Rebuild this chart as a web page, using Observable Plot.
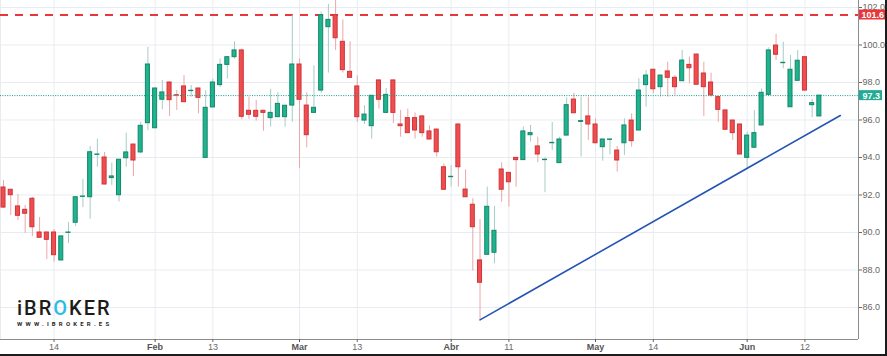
<!DOCTYPE html>
<html>
<head>
<meta charset="utf-8">
<script src="https://cdn.jsdelivr.net/npm/d3@7"></script>
<script src="https://cdn.jsdelivr.net/npm/@observablehq/plot@0.6"></script>
<style>
  html, body { margin: 0; padding: 0; background: #fff; }
  #wrap { position: relative; width: 887px; height: 356px; overflow: hidden; }
  #border { position: absolute; left: 0; top: 0; width: 887px; height: 356px; box-sizing: border-box;
            border-right: 2px solid #1b1b1b; border-bottom: 2px solid #1b1b1b; pointer-events: none; }
  #logo { position: absolute; left: 17px; top: 298px; pointer-events: none; }
  #logo .name { font-family: Roboto, "Liberation Sans", sans-serif; font-weight: 500; font-size: 20px;
                line-height: 20px; letter-spacing: 2px; color: #1c1c1c; }
  #logo .name span { color: #2bbde8; }
  #logo .url { font-family: Roboto, "Liberation Sans", sans-serif; font-weight: 700; font-size: 6px;
               line-height: 6px; letter-spacing: 3.2px; color: #2a2a2a; margin-top: 3px; }
</style>
</head>
<body>
<div id="wrap">
  <div id="chart"></div>
  <div id="logo"><div class="name">iBR<span>O</span>KER</div><div class="url">WWW.IBROKER.ES</div></div>
  <div id="border"></div>
</div>
<script>
// ---- Data (daily candles) ----
const open = [92.40,92.28,91.39,91.21,91.80,90.00,90.00,90.00,88.51,89.98,
  90.52,91.90,91.88,94.14,94.00,92.90,91.99,93.96,94.69,94.27,
  95.83,95.56,97.08,98.00,97.32,97.79,97.54,97.68,93.98,96.67,
  97.86,98.94,99.35,99.71,96.49,96.49,96.49,96.10,96.15,96.15,
  96.77,98.96,96.77,96.38,97.57,100.95,101.59,100.17,98.57,97.79,
  95.97,95.67,98.11,96.38,98.11,95.76,96.10,96.10,96.19,95.39,
  95.49,93.48,92.95,95.76,92.29,91.48,88.51,88.81,88.92,93.36,
  93.18,93.98,93.86,95.19,94.59,93.86,94.76,93.70,95.17,97.09,
  95.90,96.19,95.76,94.55,94.94,94.37,94.76,95.97,95.44,97.86,
  98.68,97.75,98.59,98.25,98.07,98.94,99.49,98.48,98.00,97.22,
  96.51,95.97,95.76,93.98,94.52,95.71,97.34,99.97,99.03,96.68,
  98.09,99.35,96.79,96.19];
const high = [92.77,92.30,92.03,91.44,91.87,90.80,90.02,90.16,89.82,90.53,
  91.92,92.83,94.59,94.98,94.27,93.70,93.90,95.30,94.71,95.88,
  99.88,97.70,98.11,98.02,97.57,98.37,97.84,97.70,97.57,98.18,
  99.26,99.37,100.17,99.78,97.22,97.04,96.51,97.64,97.45,96.78,
  101.59,99.26,97.45,98.89,101.75,102.16,102.40,101.34,100.17,98.36,
  96.76,97.31,98.13,97.68,98.13,96.51,96.58,96.38,96.21,95.69,
  95.51,93.66,93.57,95.78,93.34,91.80,90.69,92.42,91.39,93.72,
  93.20,94.00,95.62,95.71,95.08,93.98,95.87,95.08,97.18,97.43,
  97.22,97.22,96.06,94.98,94.98,94.59,96.06,96.33,98.20,98.64,
  98.70,98.39,99.08,98.37,99.71,99.35,99.51,99.08,98.50,97.24,
  96.53,95.99,95.78,95.35,96.51,97.66,99.85,100.56,100.15,99.44,
  99.71,99.37,97.11,97.32];
const low = [91.28,90.91,90.64,89.95,89.79,89.70,88.56,88.42,88.48,89.41,
  90.32,91.33,90.71,93.48,92.54,92.51,91.62,93.48,92.99,94.20,
  95.44,95.54,96.54,96.19,96.51,96.93,97.22,96.33,93.96,96.65,
  97.72,98.18,99.24,96.01,96.03,95.94,95.40,95.62,96.13,95.62,
  95.88,93.40,94.52,96.36,97.43,98.50,99.71,98.50,98.23,95.87,
  95.76,94.98,96.58,96.36,95.80,95.08,95.28,94.98,95.08,94.94,
  94.02,92.26,92.42,92.42,91.86,87.94,85.34,88.79,88.33,91.62,
  91.35,92.42,93.84,94.82,93.72,92.12,94.37,93.68,95.15,96.34,
  94.02,94.91,94.74,93.80,94.14,93.22,94.11,94.55,95.42,96.68,
  97.40,97.22,97.22,97.31,98.05,97.93,97.86,96.19,97.22,95.88,
  95.46,94.91,94.14,93.40,94.50,95.69,97.32,99.17,98.73,96.66,
  98.07,97.55,96.12,96.17];
const close = [91.33,91.99,90.89,91.00,90.28,89.72,89.61,88.79,89.79,90.00,
  91.88,91.92,94.28,94.16,92.56,92.99,93.88,94.27,93.84,95.69,
  98.96,97.68,97.47,97.06,97.30,96.95,97.56,97.18,96.65,98.00,
  98.94,99.35,99.71,96.17,96.28,96.17,96.38,96.38,96.86,96.76,
  98.96,97.08,95.19,96.65,101.59,101.34,100.36,98.66,98.25,96.15,
  96.29,97.29,97.08,97.34,96.38,95.67,95.30,95.44,95.30,94.96,
  94.28,92.28,92.97,93.48,91.88,90.28,87.32,91.37,90.09,92.28,
  92.68,93.86,95.39,95.30,94.16,93.88,94.78,94.96,96.79,96.36,
  95.94,95.76,94.76,94.96,94.96,93.84,95.71,94.87,97.57,98.37,
  97.64,98.37,98.25,97.75,99.17,98.76,97.88,97.75,97.31,96.54,
  95.48,95.30,94.16,95.17,95.30,97.45,99.71,99.48,99.05,98.68,
  99.16,97.57,96.90,97.30];

// Time-axis ticks (bar number -> label)
const monthTickBars = [22, 42, 63, 83, 104];
const monthTickLabels = ["Feb", "Mar", "Abr", "May", "Jun"];
const dayTickBars = [8, 30, 50, 71, 91, 112];
const dayTickLabels = ["14", "13", "13", "11", "14", "12"];

// Price axis ticks
const priceTicks = [86, 88, 90, 92, 94, 96, 98, 100, 102];

// Horizontal levels
const resistance = [101.6];
const lastPrice = [close[close.length - 1]];

// Support trend line (bar number, price)
const trendBars = [67, 116.9];
const trendPrices = [85.34, 96.24];

// ---- Build chart ----
const bars = open.map((o, k) => ({
  i: k + 1, open: o, high: high[k], low: low[k], close: close[k], up: close[k] >= o
}));
const trend = trendBars.map((b, k) => ({i: b, p: trendPrices[k]}));
const xDomain = [0.5845, 119.42];
const yDomain = [84.2933, 102.3733];
const monthLabel = new Map(monthTickBars.map((b, k) => [b, monthTickLabels[k]]));
const dayLabel = new Map(dayTickBars.map((b, k) => [b, dayTickLabels[k]]));

const UP_FILL = "#1fb38e", UP_STROKE = "#13876a", UP_WICK = "#a6ccc4";
const DN_FILL = "#f04d4f", DN_STROKE = "#cd3539", DN_WICK = "#eca6a8";
const GRID = "#e8ecf0";

const chart = Plot.plot({
  width: 887,
  height: 356,
  marginLeft: 0,
  marginRight: 29,
  marginTop: 0,
  marginBottom: 17,
  style: {fontFamily: "'Liberation Sans', Arial, sans-serif", fontSize: "9px", background: "white"},
  x: {type: "linear", domain: xDomain, axis: null, label: null},
  y: {type: "linear", domain: yDomain, axis: null, label: null},
  marks: [
    Plot.ruleY(priceTicks, {stroke: GRID, strokeWidth: 1}),
    Plot.ruleX([...dayTickBars, ...monthTickBars], {stroke: GRID, strokeWidth: 1}),
    Plot.ruleX([xDomain[0]], {stroke: GRID}),
    Plot.ruleY(resistance, {stroke: "#e8363b", strokeWidth: 2, strokeDasharray: "8,7"}),
    // wicks
    Plot.ruleX(bars, {x: "i", y1: "low", y2: "high", stroke: d => d.up ? UP_WICK : DN_WICK, strokeWidth: 1, clip: true}),
    // bodies
    Plot.rect(bars, {
      x1: d => d.i - 0.28, x2: d => d.i + 0.28, y1: "open", y2: "close",
      fill: d => d.up ? UP_FILL : DN_FILL, stroke: d => d.up ? UP_STROKE : DN_STROKE, strokeWidth: 1
    }),
    Plot.ruleY(lastPrice, {stroke: "#0fa08a", strokeWidth: 1, strokeDasharray: "1,1.4"}),
    Plot.line(trend, {x: "i", y: "p", stroke: "#2454b4", strokeWidth: 1.6}),
    // axis lines
    Plot.ruleY([yDomain[0]], {stroke: "#8c8c8c", strokeWidth: 1}),
    Plot.ruleX([xDomain[1]], {stroke: "#8c8c8c", strokeWidth: 1}),
    // axes
    Plot.axisX(dayTickBars, {anchor: "bottom", label: null, tickSize: 3, tickPadding: 1, fontSize: 9, color: "#6a6a6a",
      tickFormat: d => dayLabel.get(d)}),
    Plot.axisX(monthTickBars, {anchor: "bottom", label: null, tickSize: 3, tickPadding: 1, fontSize: 9, color: "#555", fontWeight: "bold",
      tickFormat: d => monthLabel.get(d)}),
    Plot.axisY(priceTicks, {anchor: "right", label: null, tickSize: 3, tickPadding: 1, fontSize: 9, color: "#666",
      tickFormat: d => d.toFixed(1)}),
    // price badges
    Plot.rect(resistance, {x1: xDomain[1], x2: xDomain[1], y1: d => d, y2: d => d,
      insetLeft: 1, insetRight: -27, insetTop: -5, insetBottom: -5, fill: "#e8363b"}),
    Plot.text(resistance, {x: xDomain[1], y: d => d, text: d => d.toFixed(1), textAnchor: "start", dx: 3,
      fill: "white", fontWeight: "bold", fontSize: 9}),
    Plot.rect(lastPrice, {x1: xDomain[1], x2: xDomain[1], y1: d => d, y2: d => d,
      insetLeft: 1, insetRight: -24, insetTop: -5, insetBottom: -5, fill: "#22ab94"}),
    Plot.text(lastPrice, {x: xDomain[1], y: d => d, text: d => d.toFixed(1), textAnchor: "start", dx: 4,
      fill: "white", fontWeight: "bold", fontSize: 9})
  ]
});
document.getElementById("chart").appendChild(chart);
</script>
</body>
</html>
